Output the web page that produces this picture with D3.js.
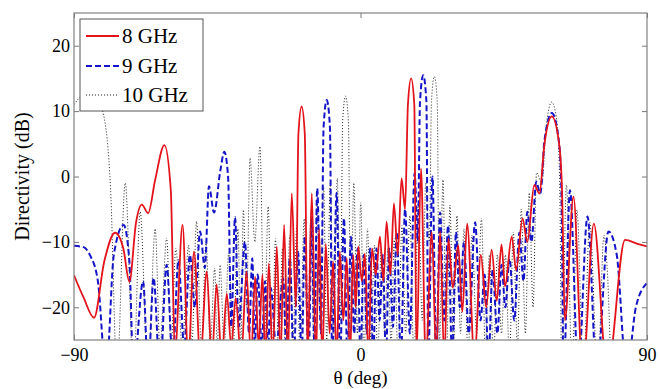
<!DOCTYPE html>
<html>
<head>
<meta charset="utf-8">
<script src="https://cdn.jsdelivr.net/npm/d3@7"></script>
<style>
  body { margin: 0; background: #fff; }
  svg text { fill: #000; }
</style>
</head>
<body>
<div id="chart"></div>
<script>
// theta (deg), directivity (dB): lobe peaks, shoulders and nulls
var ghz8 = [
    [-90, -15.1], [-87, -18.5], [-83.7, -21.6], [-80.5, -13], [-77.1, -8.6], [-74.5, -11],
    [-72.6, -16.1], [-70.5, -7], [-68.7, -4.3], [-66.7, -5.6], [-64.5, -0.5], [-61.6, 4.8],
    [-59.6, -2], [-58.3, -27], [-55.9, -7.4], [-54.1, -28], [-52.3, -11.5], [-50.3, -28],
    [-48.3, -14.5], [-46.7, -28], [-45.2, -16.5], [-43.6, -28], [-42, -17.9], [-40.6, -26],
    [-39.2, -18.6], [-37.5, -28], [-35.8, -14.5], [-34.4, -28], [-33.1, -15.3], [-32, -26],
    [-30.8, -15], [-29.9, -28], [-28.8, -13.3], [-27.6, -28], [-26.3, -10.7], [-25.1, -28],
    [-24, -7.4], [-22.8, -28], [-21.6, -2.6], [-20.3, -20], [-19.5, 6.5], [-18.5, 10.7],
    [-17.5, 6.5], [-16.6, -28],
    [-15.3, -2.6], [-14, -28], [-13, -8], [-12, -28], [-10.9, -10.3], [-9.7, -24],
    [-8.6, -13], [-7.5, -28], [-6.5, -11.5], [-5.4, -22], [-4.3, -12.5], [-3.3, -28],
    [-2.3, -12], [-1.5, -20], [-0.7, -10.7], [0.4, -16], [1.4, -11.8], [2.5, -28],
    [3.6, -11], [4.8, -15], [6.1, -9.2], [7.2, -16], [8.2, -6.9], [9.4, -15],
    [10.5, -4.1], [11.7, -12], [12.9, -0.3], [14, -5], [14.9, 11], [15.9, 15.0],
    [16.9, 11], [17.6, -28],
    [19, 1.25], [20.5, -28], [22.4, -8.5], [23.8, -28], [25, -8.4], [26.3, -28],
    [27.6, -9.5], [29, -17], [30.7, -10.5], [32, -20.7], [33.5, -7.2], [35.8, -28],
    [37.8, -12], [39.5, -20], [41.2, -11.2], [42.8, -19], [44.3, -10.4], [45.4, -16.8],
    [47.5, -9.2], [48.9, -14.3], [50.9, -6.4], [52.4, -10], [54.6, -1.3], [56.2, -2.6],
    [57.8, 5], [60.1, 9.2], [62.4, 5], [63.3, -2], [64.2, -22], [66.9, -3.1],
    [69.8, -30], [73.3, -7.2], [77.5, -30],
    [83.1, -9.7], [87, -10.3], [90, -10.7]
];

var ghz9 = [
    [-90, -10.6], [-87, -10.8], [-85, -12], [-82.5, -16], [-79.9, -30], [-77.5, -12],
    [-74.4, -7.4], [-72.6, -13], [-71.3, -30], [-68.3, -16], [-66.7, -30], [-65, -15.5],
    [-63, -30], [-60.9, -13.5], [-59, -28], [-57.2, -12.8], [-55.4, -26], [-53.6, -12],
    [-52, -20], [-50.4, -8.4], [-48.9, -14], [-47.6, -1.5], [-46, -5.5], [-44, 1],
    [-42.8, 3.8], [-41.6, 0],
    [-40.6, -23], [-39.4, -6.2], [-38.3, -23], [-36.3, -10], [-35, -24], [-34, -12.5],
    [-33.2, -26], [-32.3, -15], [-31, -26], [-30, -16], [-29, -26], [-28.2, -17],
    [-26.5, -26], [-24.3, -15.6], [-23.3, -26], [-22.2, -12.5], [-21, -28], [-19.6, -11.5],
    [-18.5, -28], [-17.5, -9.2], [-16.3, -28], [-15.3, -6.4], [-14.5, -26], [-13.6, -1.8],
    [-12.4, -24], [-11.6, 7.5], [-10.6, 11.7], [-9.6, 7.5], [-8.9, -28], [-7.5, -2.5],
    [-6.4, -28], [-5.2, -6.4],
    [-4.1, -28], [-3, -9.2], [-2, -24], [-0.9, -11], [0, -28], [1, -12],
    [2, -24], [3, -11], [4, -28], [5, -11], [6, -22], [7, -12],
    [8, -28], [9, -11], [10.2, -23], [11.4, -8.5], [12.7, -28], [14, -5],
    [15.5, -24], [17, 0.5], [18, -10], [18.7, 11.5], [19.7, 15.5], [20.7, 11.5],
    [21.3, -28], [22.6, 0],
    [23.8, -28], [25, -5.5], [26.3, -22], [27.5, -7.5], [28.8, -28], [30, -8.5],
    [31.2, -20], [32.5, -10], [34, -24], [36, -7], [37.7, -22], [39, -15],
    [40.2, -28], [41.5, -14.3], [43, -24], [44.3, -13.5], [45.5, -20], [46.8, -12.5],
    [48.3, -22], [49.9, -8.6], [51.2, -16], [52.4, -5.4], [53.7, -10], [55.2, -0.8],
    [56.5, -2.6], [57.8, 5.5], [60.1, 9.7], [62.3, 5.5], [63.1, -2], [63.8, -30],
    [65.8, -2.1], [68.4, -30], [71.3, -6.1],
    [74.2, -30], [77.9, -8.4], [80.5, -12], [83.6, -30], [86.5, -20], [90, -16.3]
];

var ghz10 = [
    [-90, 11], [-88.4, 12], [-86, 13], [-83, 12], [-80.7, 9.4], [-78.5, -2],
    [-76.5, -30], [-73.9, -1], [-71.3, -30], [-69.2, -5.4], [-66.8, -30], [-64.5, -8],
    [-63, -26], [-60.9, -9.4], [-59.5, -26], [-58, -11], [-56, -26], [-54, -10.5],
    [-53, -26], [-51.5, -6.9], [-50, -26], [-48.5, -10], [-47.2, -26], [-45.8, -14],
    [-45, -26], [-44.1, -13.5], [-42.8, -26], [-41.4, -11.7], [-40, -26], [-38.5, -8],
    [-37.6, -26], [-36.8, -5.1], [-35.8, -20], [-34.7, 2.8], [-33.2, -10], [-31.6, 4.6],
    [-30.2, -25], [-29, -4.6], [-27.8, -28], [-26.7, -9.5], [-25.7, -28], [-24.5, -11],
    [-23.5, -28], [-22.2, -9], [-21.2, -25], [-20, -7.5], [-19, -28], [-17.7, -6.5],
    [-16.7, -25], [-15.5, -5], [-14.6, -28], [-13.6, -3.5], [-12.7, -22], [-11.6, -1.5],
    [-10.6, -25], [-9.5, -1], [-8.4, -24], [-7.3, -0.3], [-6.3, -22], [-5.6, 8.5],
    [-4.7, 12.3], [-3.8, 8.5],
    [-3.1, -24], [-2.1, -1], [-1, -24], [0.1, -4], [1.1, -28], [2.2, -8],
    [3.3, -26], [4.4, -10.5], [5.4, -28], [6.5, -11], [7.6, -24], [8.6, -11],
    [9.6, -26], [10.6, -9.5], [11.8, -28], [13, -7.5], [14.2, -24], [15.5, -6],
    [16.8, -28], [18.2, -4], [19.4, -22], [20.5, -1], [21.6, -10], [22.3, 11.5],
    [23.2, 15.3], [24.1, 11.5],
    [24.8, -26], [25.9, -0.5], [27, -28], [28.1, -4.4], [29.2, -26], [30.3, -6],
    [31.4, -24], [32.5, -8], [33.8, -28], [35, -9], [36.5, -24], [38, -6.4],
    [39.2, -26], [40.5, -12], [41.8, -28], [43, -12], [44.3, -24], [45.5, -12],
    [46.8, -28], [48, -8.5], [49.3, -26], [50.5, -5], [51.8, -24], [53, -2.5],
    [54.2, -20], [55.3, 0.6], [57, -1], [58.3, 7.5], [60.1, 11.4], [61.9, 7.5],
    [62.6, -2], [63.2, -30], [64.7, -1.3],
    [66.5, -30], [68, -5.1], [70, -30], [72, -7], [74.5, -30], [76.5, -9],
    [77.5, -14], [79, -30], [84, -32], [90, -32]
];

var seriesNames = ["8 GHz", "9 GHz", "10 GHz"];
var xTicks = [-90, 0, 90];
var yTicks = [-20, -10, 0, 10, 20];

function init() {
    var width = 660, height = 389;
    var left = 74, right = 647, top = 13, bottom = 340;
    var serif = "'Liberation Serif', 'DejaVu Serif', 'Times New Roman', serif";

    var x = d3.scaleLinear().domain([-90, 90]).range([left, right]);
    var y = d3.scaleLinear().domain([-25, 25]).range([bottom, top]);

    var svg = d3.select("#chart").append("svg")
        .attr("width", width)
        .attr("height", height)
        .attr("font-family", serif);

    svg.append("defs").append("clipPath").attr("id", "plot")
        .append("rect")
        .attr("x", left).attr("y", top)
        .attr("width", right - left).attr("height", bottom - top);

    var line = d3.line()
        .x(d => x(d[0]))
        .y(d => y(d[1]))
        .curve(d3.curveMonotoneX);

    // styles for 8, 9, 10 GHz
    var styles = [
        { color: "#e3121b", width: 1.8, dash: null },
        { color: "#1414c8", width: 2, dash: "6,3" },
        { color: "#222", width: 1, dash: "1,2" }
    ];
    var data = [ghz8, ghz9, ghz10];

    var plot = svg.append("g").attr("clip-path", "url(#plot)");
    // dotted first, red on top
    [2, 1, 0].forEach(function(i) {
        plot.append("path")
            .datum(data[i])
            .attr("fill", "none")
            .attr("stroke", styles[i].color)
            .attr("stroke-width", styles[i].width)
            .attr("stroke-dasharray", styles[i].dash)
            .attr("stroke-linejoin", "round")
            .attr("d", line);
    });

    // axes, ticks pointing inward
    svg.append("g")
        .attr("transform", `translate(0,${bottom})`)
        .call(d3.axisBottom(x).tickValues(xTicks).tickSize(-5).tickPadding(8));
    svg.append("g")
        .attr("transform", `translate(${left},0)`)
        .call(d3.axisLeft(y).tickValues(yTicks).tickSize(-5).tickPadding(4));
    svg.append("g")
        .attr("transform", `translate(0,${top})`)
        .call(d3.axisTop(x).tickValues(xTicks).tickSize(-5).tickFormat(""));
    svg.append("g")
        .attr("transform", `translate(${right},0)`)
        .call(d3.axisRight(y).tickValues(yTicks).tickSize(-5).tickFormat(""));

    svg.selectAll("g").attr("font-family", serif);
    svg.selectAll(".domain").remove();
    svg.selectAll(".tick line").attr("stroke", "#777");
    svg.selectAll(".tick text")
        .attr("font-size", 18)
        .attr("fill", "#000");

    svg.append("rect")
        .attr("x", left).attr("y", top)
        .attr("width", right - left).attr("height", bottom - top)
        .attr("fill", "none")
        .attr("stroke", "#808080")
        .attr("stroke-width", 1.2);

    // axis titles
    svg.append("text")
        .attr("x", (left + right) / 2)
        .attr("y", 384)
        .attr("text-anchor", "middle")
        .attr("font-size", 19)
        .text("\u03b8 (deg)");
    svg.append("text")
        .attr("transform", `translate(29,${(top + bottom) / 2}) rotate(-90)`)
        .attr("text-anchor", "middle")
        .attr("font-size", 20)
        .text("Directivity (dB)");

    // legend
    var legend = svg.append("g");
    legend.append("rect")
        .attr("x", 80).attr("y", 19)
        .attr("width", 123).attr("height", 92)
        .attr("fill", "#fff")
        .attr("stroke", "#555")
        .attr("stroke-width", 1);
    var rowY = [36, 66, 95];
    seriesNames.forEach(function(name, i) {
        legend.append("line")
            .attr("x1", 86).attr("x2", 119)
            .attr("y1", rowY[i]).attr("y2", rowY[i])
            .attr("stroke", styles[i].color)
            .attr("stroke-width", styles[i].width)
            .attr("stroke-dasharray", styles[i].dash);
        legend.append("text")
            .attr("x", 122)
            .attr("y", rowY[i])
            .attr("dy", "0.35em")
            .attr("font-size", 21)
            .text(name);
    });
}

init();
</script>
</body>
</html>
